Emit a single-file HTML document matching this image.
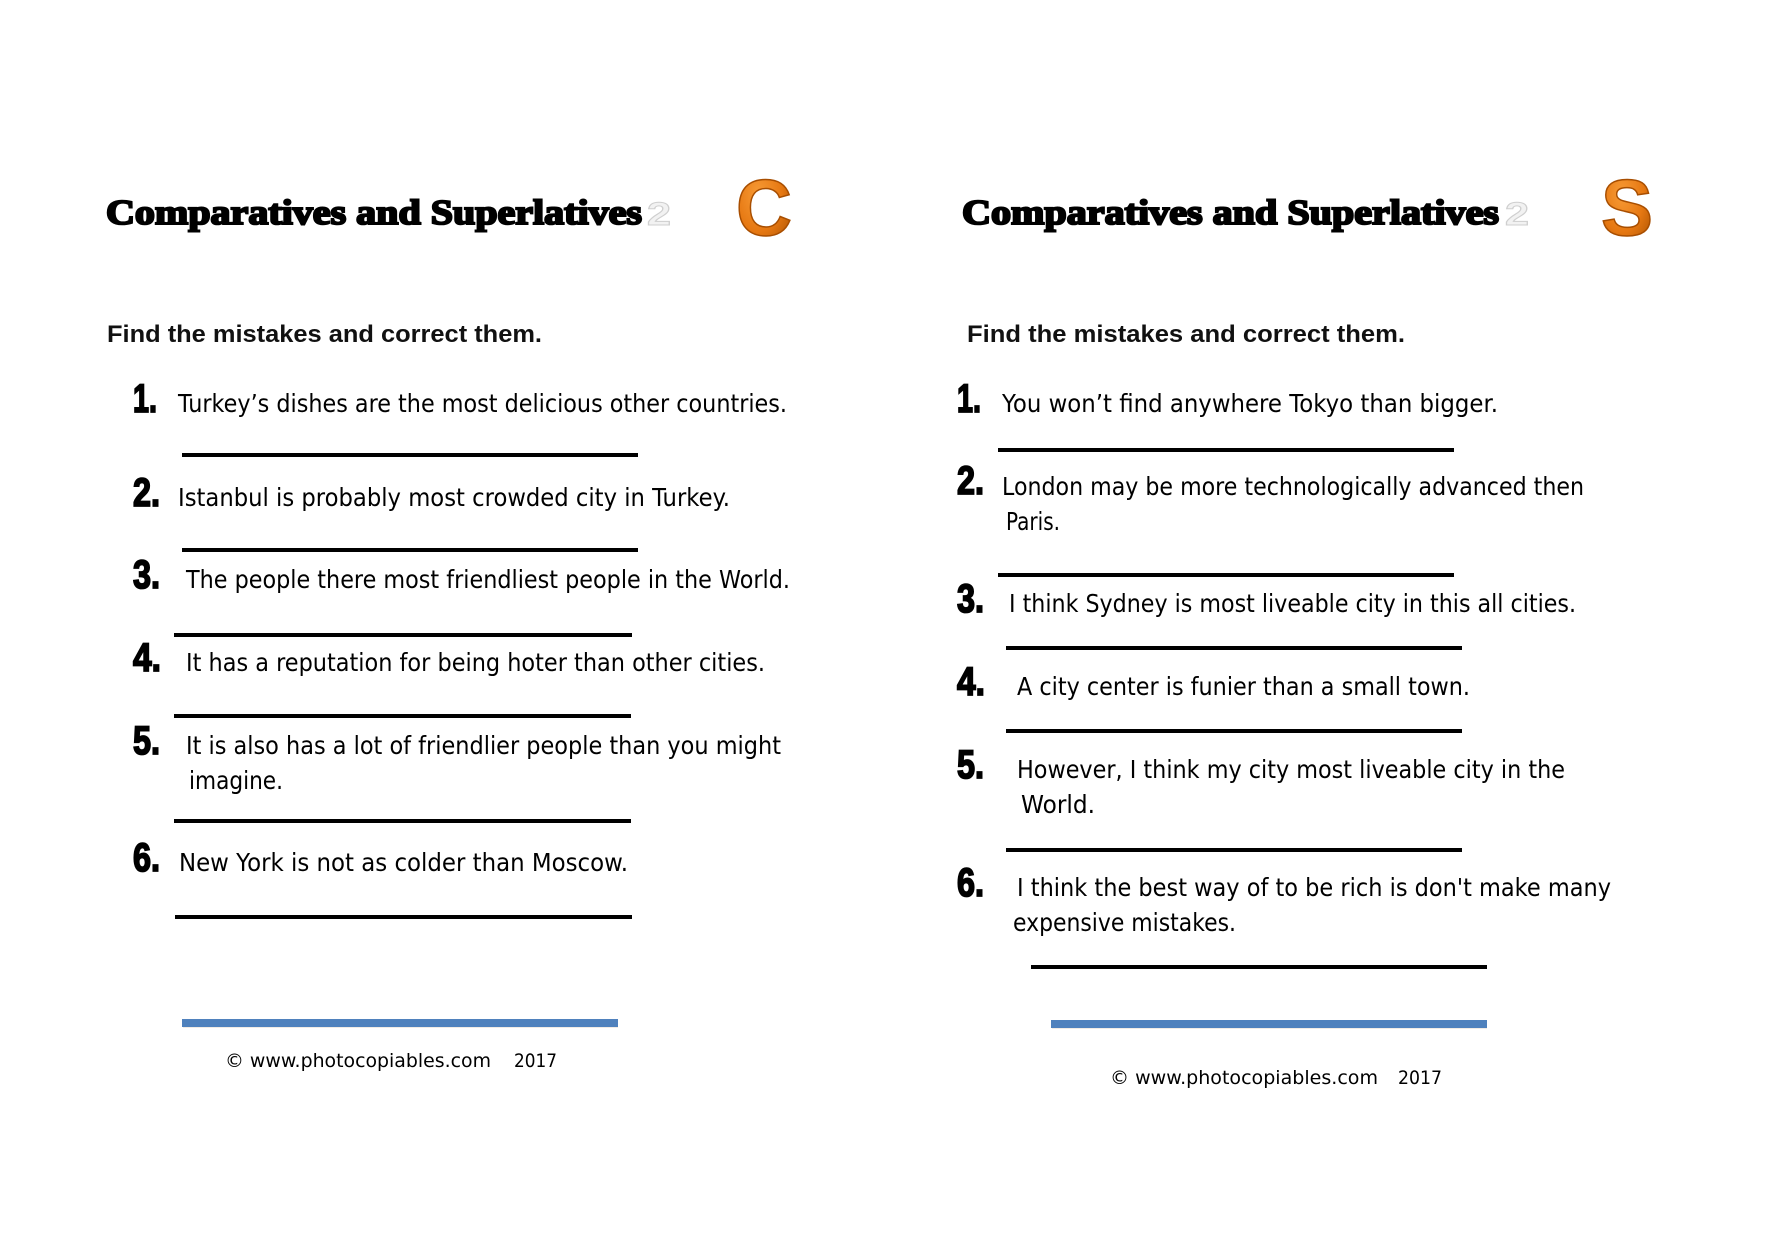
<!DOCTYPE html>
<html>
<head>
<meta charset="utf-8">
<style>
  html, body { margin: 0; padding: 0; background: #ffffff; }
  svg { display: block; }
  .title { font-family: "Liberation Serif", serif; font-weight: bold; font-size: 35px; fill: #000; stroke: #000; stroke-width: 2.1px; }
  .find { font-family: "Liberation Sans", sans-serif; font-weight: bold; font-size: 24px; fill: #111; }
  .num { font-family: "Liberation Sans Narrow", "Liberation Sans", sans-serif; font-weight: bold; font-size: 40px; fill: #000; stroke: #000; stroke-width: 1.8px; }
  .txt { font-family: "DejaVu Sans", "Liberation Sans", sans-serif; font-size: 25px; fill: #000; }
  .foot { font-family: "DejaVu Sans", "Liberation Sans", sans-serif; font-size: 19px; fill: #000; }
  .ghost { font-family: "Liberation Sans", sans-serif; font-weight: bold; font-size: 32px; fill: #f2f2f2; stroke: #cfcfcf; stroke-width: 1px; }
  .big { font-family: "Liberation Sans", sans-serif; font-weight: bold; font-size: 80px; stroke: #a84e00; stroke-width: 1.5px; }
</style>
</head>
<body>
<svg width="1778" height="1249" viewBox="0 0 1778 1249" xmlns="http://www.w3.org/2000/svg">
  <defs>
    <radialGradient id="og" cx="40%" cy="35%" r="70%">
      <stop offset="0%" stop-color="#f79a35"/>
      <stop offset="60%" stop-color="#e67812"/>
      <stop offset="100%" stop-color="#b85a05"/>
    </radialGradient>
  </defs>
  <rect x="0" y="0" width="1778" height="1249" fill="#ffffff"/>

  <!-- ===== LEFT PAGE ===== -->
  <text class="title" x="106" y="224" textLength="536" lengthAdjust="spacingAndGlyphs">Comparatives and Superlatives</text>
  <text class="ghost" x="647" y="225" textLength="24" lengthAdjust="spacingAndGlyphs">2</text>
  <text class="big" x="736" y="235" textLength="56" lengthAdjust="spacingAndGlyphs" fill="url(#og)">C</text>

  <text class="find" x="107" y="342" textLength="435" lengthAdjust="spacingAndGlyphs">Find the mistakes and correct them.</text>

  <text class="num" x="133" y="412" textLength="24" lengthAdjust="spacingAndGlyphs">1.</text>
  <text class="txt" x="178" y="412" textLength="609" lengthAdjust="spacingAndGlyphs">Turkey’s dishes are the most delicious other countries.</text>
  <rect x="182" y="453" width="456" height="4" fill="#000"/>

  <text class="num" x="133" y="506" textLength="27" lengthAdjust="spacingAndGlyphs">2.</text>
  <text class="txt" x="178" y="506" textLength="552" lengthAdjust="spacingAndGlyphs">Istanbul is probably most crowded city in Turkey.</text>
  <rect x="182" y="548" width="456" height="4" fill="#000"/>

  <text class="num" x="133" y="588" textLength="27" lengthAdjust="spacingAndGlyphs">3.</text>
  <text class="txt" x="186" y="588" textLength="604" lengthAdjust="spacingAndGlyphs">The people there most friendliest people in the World.</text>
  <rect x="174" y="633" width="458" height="4" fill="#000"/>

  <text class="num" x="133" y="671" textLength="28" lengthAdjust="spacingAndGlyphs">4.</text>
  <text class="txt" x="186" y="671" textLength="579" lengthAdjust="spacingAndGlyphs">It has a reputation for being hoter than other cities.</text>
  <rect x="174" y="714" width="457" height="4" fill="#000"/>

  <text class="num" x="133" y="754" textLength="27" lengthAdjust="spacingAndGlyphs">5.</text>
  <text class="txt" x="186" y="754" textLength="595" lengthAdjust="spacingAndGlyphs">It is also has a lot of friendlier people than you might</text>
  <text class="txt" x="189" y="789" textLength="94" lengthAdjust="spacingAndGlyphs">imagine.</text>
  <rect x="174" y="819" width="457" height="4" fill="#000"/>

  <text class="num" x="133" y="871" textLength="27" lengthAdjust="spacingAndGlyphs">6.</text>
  <text class="txt" x="179" y="871" textLength="449" lengthAdjust="spacingAndGlyphs">New York is not as colder than Moscow.</text>
  <rect x="175" y="915" width="457" height="4" fill="#000"/>

  <rect x="183" y="1024" width="435" height="4" fill="#e8ddd4" opacity="0.6"/>
  <rect x="182" y="1019" width="436" height="8" fill="#4f81bd"/>

  <text class="foot" x="225" y="1067" textLength="266" lengthAdjust="spacingAndGlyphs">© www.photocopiables.com</text>
  <text class="foot" x="514" y="1067" textLength="43" lengthAdjust="spacingAndGlyphs">2017</text>

  <!-- ===== RIGHT PAGE ===== -->
  <text class="title" x="962" y="224" textLength="537" lengthAdjust="spacingAndGlyphs">Comparatives and Superlatives</text>
  <text class="ghost" x="1505" y="225" textLength="24" lengthAdjust="spacingAndGlyphs">2</text>
  <text class="big" x="1601" y="235" textLength="52" lengthAdjust="spacingAndGlyphs" fill="url(#og)">S</text>

  <text class="find" x="967" y="342" textLength="438" lengthAdjust="spacingAndGlyphs">Find the mistakes and correct them.</text>

  <text class="num" x="957" y="412" textLength="24" lengthAdjust="spacingAndGlyphs">1.</text>
  <text class="txt" x="1002" y="412" textLength="496" lengthAdjust="spacingAndGlyphs">You won’t find anywhere Tokyo than bigger.</text>
  <rect x="998" y="448" width="456" height="4" fill="#000"/>

  <text class="num" x="957" y="494" textLength="27" lengthAdjust="spacingAndGlyphs">2.</text>
  <text class="txt" x="1002" y="495" textLength="582" lengthAdjust="spacingAndGlyphs">London may be more technologically advanced then</text>
  <text class="txt" x="1006" y="530" textLength="54" lengthAdjust="spacingAndGlyphs">Paris.</text>
  <rect x="998" y="573" width="456" height="4" fill="#000"/>

  <text class="num" x="957" y="612" textLength="27" lengthAdjust="spacingAndGlyphs">3.</text>
  <text class="txt" x="1009" y="612" textLength="567" lengthAdjust="spacingAndGlyphs">I think Sydney is most liveable city in this all cities.</text>
  <rect x="1006" y="646" width="456" height="4" fill="#000"/>

  <text class="num" x="957" y="695" textLength="28" lengthAdjust="spacingAndGlyphs">4.</text>
  <text class="txt" x="1017" y="695" textLength="453" lengthAdjust="spacingAndGlyphs">A city center is funier than a small town.</text>
  <rect x="1006" y="729" width="456" height="4" fill="#000"/>

  <text class="num" x="957" y="778" textLength="27" lengthAdjust="spacingAndGlyphs">5.</text>
  <text class="txt" x="1017" y="778" textLength="548" lengthAdjust="spacingAndGlyphs">However, I think my city most liveable city in the</text>
  <text class="txt" x="1021" y="813" textLength="74" lengthAdjust="spacingAndGlyphs">World.</text>
  <rect x="1006" y="848" width="456" height="4" fill="#000"/>

  <text class="num" x="957" y="896" textLength="27" lengthAdjust="spacingAndGlyphs">6.</text>
  <text class="txt" x="1017" y="896" textLength="594" lengthAdjust="spacingAndGlyphs">I think the best way of to be rich is don't make many</text>
  <text class="txt" x="1013" y="931" textLength="223" lengthAdjust="spacingAndGlyphs">expensive mistakes.</text>
  <rect x="1031" y="965" width="456" height="4" fill="#000"/>

  <rect x="1052" y="1025" width="435" height="4" fill="#e8ddd4" opacity="0.6"/>
  <rect x="1051" y="1020" width="436" height="8" fill="#4f81bd"/>

  <text class="foot" x="1110" y="1084" textLength="268" lengthAdjust="spacingAndGlyphs">© www.photocopiables.com</text>
  <text class="foot" x="1398" y="1084" textLength="44" lengthAdjust="spacingAndGlyphs">2017</text>
</svg>
</body>
</html>
